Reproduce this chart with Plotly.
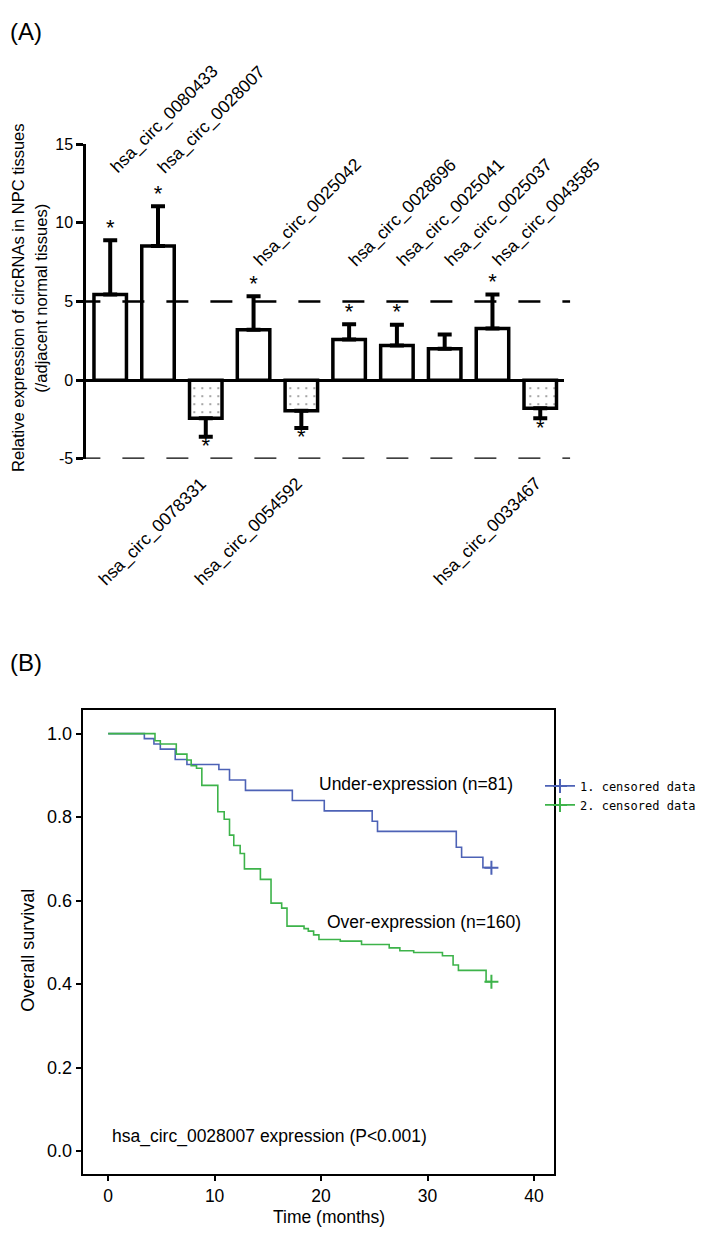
import plotly.graph_objects as go

# ---------------- Panel A data ----------------
categories = ["hsa_circ_0080433", "hsa_circ_0028007", "hsa_circ_0078331", "hsa_circ_0025042",
              "hsa_circ_0054592", "hsa_circ_0028696", "hsa_circ_0025041", "hsa_circ_0025037",
              "hsa_circ_0043585", "hsa_circ_0033467"]
values = [5.44, 8.52, -2.42, 3.2, -1.95, 2.58, 2.2, 2.0, 3.29, -1.79]
errors = [3.46, 2.54, 1.18, 2.13, 1.09, 0.98, 1.32, 0.9, 2.15, 0.63]
significant = [True, True, True, True, True, True, True, False, True, True]
a_yticks = [-5, 0, 5, 10, 15]
a_yticklabels = ["-5", "0", "5", "10", "15"]

# ---------------- Panel B data ----------------
under_t = [0, 3.4, 4.3, 4.9, 6.3, 7.4, 10.4, 11.4, 12.9, 17.3, 20.3, 24.8, 25.3, 32.7, 33.2, 35.2, 36]
under_s = [1.0, 0.988, 0.975, 0.963, 0.938, 0.926, 0.914, 0.889, 0.864, 0.840, 0.815, 0.790,
           0.766, 0.728, 0.704, 0.679, 0.679]
over_t = [0, 4.4, 4.9, 6.4, 7.4, 7.8, 8.3, 8.8, 10.3, 10.9, 11.4, 11.8, 12.4, 12.8, 14.3, 15.3,
          16.3, 16.8, 18.4, 18.8, 19.3, 19.8, 21.8, 23.8, 26.4, 27.4, 28.7, 31.4, 32.4, 32.9, 35.5, 36]
over_s = [1.0, 0.983, 0.975, 0.951, 0.937, 0.923, 0.917, 0.876, 0.813, 0.795, 0.757, 0.732, 0.713,
          0.676, 0.651, 0.594, 0.582, 0.539, 0.533, 0.527, 0.518, 0.507, 0.503, 0.495, 0.487, 0.480,
          0.476, 0.468, 0.446, 0.433, 0.406, 0.406]
under_censor_t = [36]
under_censor_s = [0.679]
over_censor_t = [36]
over_censor_s = [0.406]
b_xticks = [0, 10, 20, 30, 40]
b_yticks = [0.0, 0.2, 0.4, 0.6, 0.8, 1.0]

FONT = "Liberation Sans, Arial, sans-serif"
# page body has an 8px default margin; size the figure so the page fits the window exactly
OX, OY = 8, 8
FW, FH = 709 - 2 * OX, 1243 - 2 * OY


def px(x):
    return (x - OX) / FW


def py(y):
    return 1 - (y - OY) / FH


BLUE = "#4d62b6"
GREEN = "#3db34a"

fig = go.Figure()

# ---- Panel A bars ----
fig.add_trace(go.Bar(
    x=categories, y=values, width=0.68,
    marker=dict(color="white", line=dict(color="black", width=3.5),
                pattern=dict(shape=["." if v < 0 else "" for v in values],
                             fgcolor="#222222", bgcolor="white", size=8, solidity=0.06)),
    error_y=dict(type="data", symmetric=False,
                 array=[e if v > 0 else 0 for v, e in zip(values, errors)],
                 arrayminus=[e if v < 0 else 0 for v, e in zip(values, errors)],
                 color="black", thickness=4, width=7),
    xaxis="x", yaxis="y", showlegend=False, hoverinfo="skip"))

star_x = [c for c, s in zip(categories, significant) if s]
star_y = [v + e if v > 0 else v - e for v, e, s in zip(values, errors, significant) if s]
star_pos = ["top center" if v > 0 else "bottom center" for v, s in zip(values, significant) if s]
fig.add_trace(go.Scatter(
    x=star_x, y=star_y, mode="text", text=["*"] * len(star_x), textposition=star_pos,
    textfont=dict(family=FONT, size=22, color="black"),
    xaxis="x", yaxis="y", showlegend=False, hoverinfo="skip", cliponaxis=False))

# ---- Panel B curves ----
fig.add_trace(go.Scatter(x=under_t, y=under_s, mode="lines", line=dict(color=BLUE, width=1.6, shape="hv"),
                         xaxis="x2", yaxis="y2", showlegend=False, hoverinfo="skip"))
fig.add_trace(go.Scatter(x=over_t, y=over_s, mode="lines", line=dict(color=GREEN, width=1.6, shape="hv"),
                         xaxis="x2", yaxis="y2", showlegend=False, hoverinfo="skip"))
fig.add_trace(go.Scatter(x=under_censor_t, y=under_censor_s, mode="lines+markers", name="1. censored data",
                         line=dict(color=BLUE, width=1.6),
                         marker=dict(symbol="cross-thin", size=10, line=dict(color=BLUE, width=2)),
                         xaxis="x2", yaxis="y2", cliponaxis=False))
fig.add_trace(go.Scatter(x=over_censor_t, y=over_censor_s, mode="lines+markers", name="2. censored data",
                         line=dict(color=GREEN, width=1.6),
                         marker=dict(symbol="cross-thin", size=10, line=dict(color=GREEN, width=2)),
                         xaxis="x2", yaxis="y2", cliponaxis=False))

# ---- annotations ----
A_YMIN, A_YMAX = -5, 15
ann = []
for i, (c, v) in enumerate(zip(categories, values)):
    if v > 0:
        ly = 12.7 if i < 2 else 6.8
        ann.append(dict(x=c, y=ly, xref="x", yref="y", text=c, textangle=-45, showarrow=False,
                        xanchor="left", yanchor="bottom", xshift=-7,
                        font=dict(family=FONT, size=17.5, color="black")))
    else:
        ann.append(dict(x=c, y=(-5.75 - A_YMIN) / (A_YMAX - A_YMIN), xref="x", yref="y domain",
                        text=c, textangle=-45, showarrow=False,
                        xanchor="right", yanchor="top", xshift=8,
                        font=dict(family=FONT, size=17.5, color="black")))

ann += [
    dict(x=px(8), y=py(8), xref="paper", yref="paper", text="(A)", showarrow=False,
         xanchor="left", yanchor="top", font=dict(family=FONT, size=24, color="black")),
    dict(x=px(8), y=py(648), xref="paper", yref="paper", text="(B)", showarrow=False,
         xanchor="left", yanchor="top", font=dict(family=FONT, size=24, color="black")),
    dict(x=px(18), y=py(294), xref="paper", yref="paper",
         text="Relative expression of circRNAs in NPC tissues",
         textangle=-90, showarrow=False, xanchor="center", yanchor="middle",
         font=dict(family=FONT, size=16.5, color="black")),
    dict(x=px(41), y=py(294), xref="paper", yref="paper",
         text="(/adjacent normal tissues)",
         textangle=-90, showarrow=False, xanchor="center", yanchor="middle",
         font=dict(family=FONT, size=16.5, color="black")),
    dict(x=px(28), y=py(955), xref="paper", yref="paper", text="Overall survival",
         textangle=-90, showarrow=False, xanchor="center", yanchor="middle",
         font=dict(family=FONT, size=18, color="black")),
    dict(x=px(332), y=py(1226), xref="paper", yref="paper", text="Time (months)",
         showarrow=False, xanchor="center", yanchor="middle",
         font=dict(family=FONT, size=17.5, color="black")),
    dict(x=19.66, y=0.879, xref="x2", yref="y2", text="Under-expression (n=81)", showarrow=False,
         xanchor="left", yanchor="middle", font=dict(family=FONT, size=17.5, color="black")),
    dict(x=20.4, y=0.548, xref="x2", yref="y2", text="Over-expression (n=160)", showarrow=False,
         xanchor="left", yanchor="middle", font=dict(family=FONT, size=17.5, color="black")),
    dict(x=0.19, y=0.036, xref="x2", yref="y2", text="hsa_circ_0028007 expression (P<0.001)",
         showarrow=False, xanchor="left", yanchor="middle",
         font=dict(family=FONT, size=17.5, color="black")),
]

shapes = []
for lvl in (5, -5):
    shapes.append(dict(type="line", xref="paper", yref="y", x0=px(79), x1=px(575), y0=lvl, y1=lvl,
                       line=dict(color="black", width=2.5, dash="22px,22px"), layer="above"))

fig.update_layout(
    width=FW, height=FH, margin=dict(l=0, r=0, t=0, b=0),
    paper_bgcolor="white", plot_bgcolor="white",
    font=dict(family=FONT, color="black"),
    xaxis=dict(domain=[px(87), px(569)], range=[-0.5, 9.5], type="category",
               showticklabels=False, ticks="", showgrid=False, zeroline=False, showline=False),
    yaxis=dict(domain=[py(457), py(138)], range=[A_YMIN, A_YMAX], tickvals=a_yticks,
               ticktext=a_yticklabels, ticks="outside", ticklen=7, tickwidth=3, tickcolor="black",
               showline=True, linewidth=3, linecolor="black", showgrid=False,
               zeroline=True, zerolinecolor="black", zerolinewidth=3,
               tickfont=dict(family=FONT, size=16, color="black")),
    xaxis2=dict(domain=[px(84), px(559)], range=[-2.33, 41.9], tickvals=b_xticks,
                ticks="outside", ticklen=6, tickwidth=1.5, tickcolor="black",
                showline=True, mirror=True, linewidth=1.5, linecolor="black",
                showgrid=False, zeroline=False, anchor="y2",
                tickfont=dict(family=FONT, size=17.5, color="black")),
    yaxis2=dict(domain=[py(1182), py(712)], range=[-0.054, 1.056], tickvals=b_yticks,
                tickformat=".1f", ticks="outside", ticklen=6, tickwidth=1.5, tickcolor="black",
                showline=True, mirror=True, linewidth=1.5, linecolor="black",
                showgrid=False, zeroline=False, anchor="x2",
                tickfont=dict(family=FONT, size=18, color="black")),
    legend=dict(x=px(545), y=py(774), xanchor="left", yanchor="top",
                bgcolor="rgba(0,0,0,0)", borderwidth=0,
                font=dict(family="DejaVu Sans Mono, monospace", size=12, color="black")),
    annotations=ann, shapes=shapes,
)

fig.write_html("out.html")
